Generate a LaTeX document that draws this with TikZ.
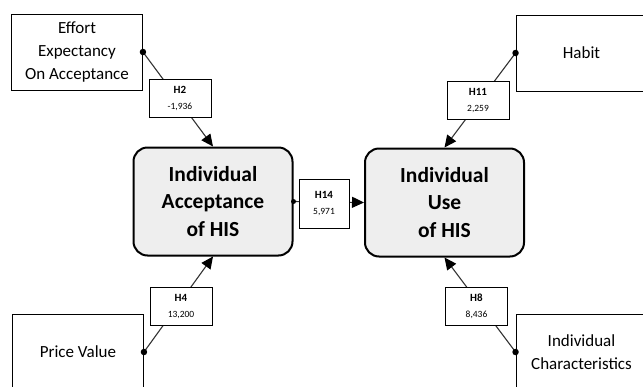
\documentclass[tikz,border=0pt]{standalone}
\usepackage{fontspec}
\setmainfont{Carlito}
\usetikzlibrary{arrows.meta}
\definecolor{boxgray}{HTML}{EEEEEE}
\definecolor{linegray}{HTML}{333333}
\tikzset{
  factor/.style={draw=black, line width=0.9pt, fill=white, minimum width=131pt, minimum height=76pt,
    inner sep=0pt, align=center, font=\fontsize{17}{23}\selectfont},
  mainbox/.style={draw=black, line width=2pt, fill=boxgray, rounded corners=14pt, minimum width=159pt,
    minimum height=108pt, inner sep=0pt, align=center, font=\fontsize{21.5}{27.5}\selectfont\bfseries},
  hyp/.style={draw=black, line width=0.8pt, fill=white, minimum width=62pt, minimum height=38pt,
    inner sep=0pt, align=center},
  link/.style={draw=linegray, line width=1.1pt, -{Triangle[length=12pt,width=11pt,color=black]}},
  srcdot/.style={fill=black, circle, inner sep=0pt, minimum size=6.5pt},
}
\newcommand{\hl}[2]{{\fontsize{11}{12}\selectfont\bfseries #1}\\[4pt]{\fontsize{9.5}{10}\selectfont #2}}
\begin{document}
\begin{tikzpicture}[x=1pt, y=-1pt]
\useasboundingbox (0,0) rectangle (643,386);
% factor boxes
\node[factor] (effort) at (77,52) {Effort\\Expectancy\\On Acceptance};
\node[factor] (habit) at (581.5,53) {Habit};
\node[factor] (price) at (78,352) {Price Value};
\node[factor] (indchar) at (581.5,352) {Individual\\Characteristics};
% main boxes
\node[mainbox] (acc) at (213,201.5) {Individual\\Acceptance\\of HIS};
\node[mainbox] (use) at (444.5,202.5) {Individual\\Use\\of HIS};
% connectors
\draw[link] (effort.east) -- (acc.north);
\draw[link] (price.east) -- (acc.south);
\draw[link] (habit.west) -- (use.north);
\draw[link] (indchar.west) -- (use.south);
\draw[link] (acc.east) -- (use.west);
\node[srcdot] at (effort.east) {};
\node[srcdot] at (price.east) {};
\node[srcdot] at (habit.west) {};
\node[srcdot] at (indchar.west) {};
\node[srcdot, minimum size=5pt] at (acc.east) {};
% hypothesis labels
\node[hyp] (h2) at (180,98) {\hl{H2}{-1,936}};
\node[hyp] (h11) at (478,100.5) {\hl{H11}{2,259}};
\node[hyp] (h4) at (181,306.5) {\hl{H4}{13,200}};
\node[hyp] (h8) at (476.5,306.5) {\hl{H8}{8,436}};
\node[hyp, minimum width=50pt, minimum height=49pt] (h14) at (324,204) {\hl{H14}{5,971}};
\end{tikzpicture}
\end{document}
